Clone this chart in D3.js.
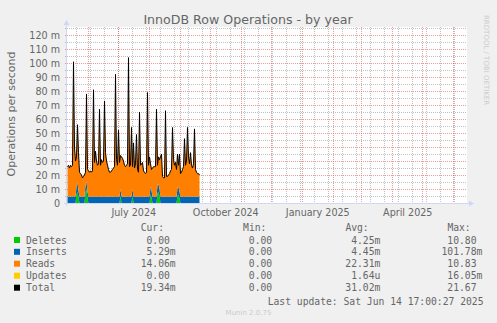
<!DOCTYPE html>
<html>
<head>
<meta charset="utf-8">
<script src="https://cdn.jsdelivr.net/npm/d3@7/dist/d3.min.js"></script>
<style>
  body { margin: 0; background: #f0f0f0; }
  svg { display: block; }
  text { white-space: pre; }
</style>
</head>
<body>
<svg id="chart" width="497" height="323"></svg>
<script>
// Time window of the yearly view and first day with samples
const windowStart = "2024-05-10T17:00:27";
const windowEnd = "2025-06-14T17:00:27";
const firstDay = "2024-05-10T17:00:27";
const firstGridMonday = "2024-05-06T00:00:00";

// Daily averages, in milli-operations per second
const deletes = [
  0,0,0,0,0,0,0,0,0,6.0, 8.0,4.0,0,0,0,0,0,0,8.0,10.0,
  3.0,0,0,0,0,0,0,0,0,0, 0,0,0,0,0,0,0,0,0,0,
  0,0,0,0,0,0,0,0,0,0, 0,0,0,5.0,0,0,0,0,0,0,
  0,0,0,0,0,5.0,0,0,0,0, 0,0,0,0,0,0,0,0,0,0,
  0,0,0,6.0,4.0,0,0,0,0,0, 7.0,8.0,5.0,0,0,0,0,0,0,0,
  0,0,0,0,0,0,0,0,0,0, 5.0,6.0,3.0,0,0,0,0,0,0,0,
  0,0,0,0,0,0,0,0,0,0, 0,0,0
];
const inserts = [
  4.6,4.6,4.5,4.6,4.6,4.5,4.8,4.6,4.5,5.2, 6.5,5.0,4.5,4.4,4.5,4.4,4.5,4.4,4.6,5.5,
  4.8,4.5,4.5,4.6,4.5,4.5,4.7,4.5,4.6,4.5, 4.5,4.6,4.6,4.4,4.5,4.5,4.6,4.7,4.5,4.4,
  4.5,4.4,4.5,4.5,4.6,4.5,4.5,4.5,4.8,4.5, 4.5,4.6,4.5,5.0,4.6,4.5,4.5,4.4,4.5,4.5,
  4.5,4.8,4.5,4.5,4.6,4.8,4.5,4.4,4.5,4.6, 4.5,4.5,4.6,4.5,4.5,4.6,4.4,4.5,4.5,4.5,
  4.7,4.5,4.6,5.5,5.0,4.5,4.6,4.5,4.5,4.6, 6.0,5.5,5.0,4.6,4.5,4.4,4.5,4.5,4.5,4.6,
  4.5,4.4,4.5,4.5,4.6,4.6,4.5,4.5,4.6,4.5, 5.5,5.5,5.0,4.5,4.5,4.5,4.6,4.6,4.5,4.6,
  4.7,4.5,4.6,4.5,4.5,4.5,4.6,4.7,4.5,4.5, 4.5,4.6,4.6
];
const reads = [
  21.4,22.4,20.5,22.4,21.4,22.5,96.2,35.4,25.5,21.8, 41.5,27.0,17.5,16.6,15.5,13.6,14.5,15.6,9.4,62.5,
  16.2,18.5,17.5,18.4,17.5,18.5,76.3,24.5,32.4,25.5, 22.5,23.4,62.4,22.6,26.5,24.5,25.4,68.3,31.5,25.6,
  22.5,19.6,17.5,17.5,18.4,19.5,20.5,21.5,87.2,26.5, 22.5,47.4,24.5,24.0,28.4,27.5,25.5,22.6,21.5,22.5,
  23.5,99.2,21.5,22.5,49.4,16.2,38.5,20.6,23.5,44.4, 19.5,17.5,60.4,22.5,23.5,24.4,18.6,17.5,16.5,17.5,
  74.3,22.5,28.4,16.5,15.0,20.5,21.4,21.5,21.5,62.4, 14.0,19.5,21.0,28.4,30.5,14.6,13.5,13.5,61.5,14.4,
  14.5,15.6,16.5,18.5,19.4,49.4,26.5,22.5,24.4,19.5, 24.5,15.5,27.0,16.5,17.5,19.5,21.4,41.4,22.5,25.4,
  49.3,28.5,23.4,31.5,22.5,20.5,23.4,48.3,19.5,17.5, 16.5,16.4,15.4
];
const updates = [
  0,0,0,0,0,0,0,0,0,0, 0,0,0,0,0,0,0,0,0,0,
  0,0,0,0,0,0,0,0,0,0, 0,0,0,0,0,0,0,0,0,0,
  0,0,0,0,0,0,0,0,0,0, 0,0,0,0,0,0,0,0,0,0,
  0,0,0,0,0,0,0,0,0,0, 0,0,0,0,0,0,0,0,0,0,
  0,0,0,0,0,0,0,0,0,0, 0,0,0,0,0,0,0,0,0,0,
  0,0,0,0,0,0,0,0,0,0, 0,0,0,0,0,0,0,0,0,0,
  0,0,0,0,0,0,0,0,0,0, 0,0,0
];

const yTicks = [0,10,20,30,40,50,60,70,80,90,100,110,120];
const yMinorTicks = [5,15,25,35,45,55,65,75,85,95,105,115,125];
const monthLabels = [
  ["2024-07-01", "July 2024"],
  ["2024-10-01", "October 2024"],
  ["2025-01-01", "January 2025"],
  ["2025-04-01", "April 2025"]
];

const seriesNames = ["Deletes", "Inserts", "Reads", "Updates"];
const seriesColors = ["#00cc00", "#0066b3", "#ff8000", "#ffcc00"];
const legendNames = ["Deletes", "Inserts", "Reads", "Updates", "Total"];
const legendColors = ["#00cc00", "#0066b3", "#ff8000", "#ffcc00", "#000000"];
const legendCur = ["0.00", "5.29m", "14.06m", "0.00", "19.34m"];
const legendMin = ["0.00", "0.00", "0.00", "0.00", "0.00"];
const legendAvg = ["4.25m", "4.45m", "22.31m", "1.64u", "31.02m"];
const legendMax = ["10.80", "101.78m", "10.83", "16.05m", "21.67"];

const svg = d3.select("#chart");
const W = 497, H = 323;
const plot = { left: 67, right: 467, top: 27, bottom: 203 };

const x = d3.scaleTime()
  .domain([new Date(windowStart), new Date(windowEnd)])
  .range([plot.left, plot.right]);
const y = d3.scaleLinear()
  .domain([0, 125.9])
  .range([plot.bottom, plot.top]);
const px = d => Math.round(x(d));

svg.append("rect").attr("width", W).attr("height", H).attr("fill", "#f0f0f0");
svg.append("rect")
  .attr("x", plot.left).attr("y", plot.top)
  .attr("width", plot.right - plot.left).attr("height", plot.bottom - plot.top)
  .attr("fill", "#ffffff");

// Grid: minor lines grey, major lines red, both dotted
const grid = svg.append("g").attr("shape-rendering", "crispEdges");
const minorStroke = "rgba(140,140,140,0.55)";
const majorStroke = "rgba(225,90,90,0.6)";

const hLine = (v, stroke) => grid.append("line")
  .attr("x1", plot.left - 2).attr("x2", plot.right)
  .attr("y1", Math.round(y(v)) + 0.5).attr("y2", Math.round(y(v)) + 0.5)
  .attr("stroke", stroke).attr("stroke-dasharray", "1,1");
const vLine = (d, stroke) => grid.append("line")
  .attr("x1", px(d) + 0.5).attr("x2", px(d) + 0.5)
  .attr("y1", plot.top).attr("y2", plot.bottom + 2)
  .attr("stroke", stroke).attr("stroke-dasharray", "1,1");

yMinorTicks.filter(v => y(v) >= plot.top).forEach(v => hLine(v, minorStroke));
yTicks.slice(1).forEach(v => hLine(v, majorStroke));

// fortnightly minor lines, monthly major lines
const fortnights = d3.timeDay.range(new Date(firstGridMonday), new Date(windowEnd), 14)
  .filter(d => d >= new Date(windowStart));
const months = d3.timeMonth.range(new Date(windowStart), new Date(windowEnd));
fortnights.forEach(d => vLine(d, minorStroke));
months.forEach(d => vLine(d, majorStroke));

// Stacked areas, sloped between the centres of the daily columns
const days = deletes.map((_, i) => d3.timeHour.offset(new Date(firstDay), i * 24 + 12));
const rows = days.map((d, i) => ({
  date: d, Deletes: deletes[i], Inserts: inserts[i], Reads: reads[i], Updates: updates[i]
}));
const stacked = d3.stack().keys(seriesNames)(rows);

const areaGen = d3.area()
  .curve(d3.curveLinear)
  .x(s => x(s.data.date))
  .y0(s => y(s[0]))
  .y1(s => y(s[1]));

const areas = svg.append("g");
stacked.forEach((layer, k) => {
  areas.append("path")
    .attr("d", areaGen(layer))
    .attr("fill", seriesColors[k]);
});

// Total line on top of the stack
const topLayer = stacked[stacked.length - 1];
svg.append("path")
  .attr("d", d3.line()
    .curve(d3.curveLinear)
    .x(s => x(s.data.date))
    .y(s => y(s[1]))(topLayer))
  .attr("fill", "none")
  .attr("stroke", "#000")
  .attr("stroke-width", 1)
  .attr("stroke-linejoin", "round");

// Axes with arrow heads
const axisColor = "#cfd6f8";
svg.append("line")
  .attr("x1", plot.left - 3).attr("x2", plot.right + 2)
  .attr("y1", plot.bottom + 0.5).attr("y2", plot.bottom + 0.5)
  .attr("stroke", axisColor);
svg.append("line")
  .attr("x1", plot.left - 0.5).attr("x2", plot.left - 0.5)
  .attr("y1", plot.bottom + 3).attr("y2", plot.top - 2)
  .attr("stroke", axisColor);
svg.append("path")
  .attr("d", `M${plot.right + 2},${plot.bottom - 2.5} L${plot.right + 7},${plot.bottom + 0.5} L${plot.right + 2},${plot.bottom + 3.5} Z`)
  .attr("fill", axisColor);
svg.append("path")
  .attr("d", `M${plot.left - 3.5},${plot.top - 2} L${plot.left - 0.5},${plot.top - 7} L${plot.left + 2.5},${plot.top - 2} Z`)
  .attr("fill", axisColor);

// Text
const font = "DejaVu Sans";
const mono = "DejaVu Sans Mono";
const textColor = "#666666";

svg.append("text")
  .attr("x", 248).attr("y", 24)
  .attr("text-anchor", "middle")
  .attr("font-family", font).attr("font-size", 12.6)
  .attr("fill", textColor)
  .text("InnoDB Row Operations - by year");

svg.append("text")
  .attr("transform", "translate(15,114) rotate(-90)")
  .attr("text-anchor", "middle")
  .attr("font-family", font).attr("font-size", 11)
  .attr("fill", textColor)
  .text("Operations per second");

svg.append("text")
  .attr("transform", "translate(484,15) rotate(90)")
  .attr("font-family", font).attr("font-size", 7)
  .attr("fill", "#cccccc")
  .text("RRDTOOL / TOBI OETIKER");

yTicks.forEach(v => {
  svg.append("text")
    .attr("x", 60).attr("y", y(v) + 3.5)
    .attr("text-anchor", "end")
    .attr("font-family", font).attr("font-size", 9.6)
    .attr("fill", textColor)
    .text(v === 0 ? "0" : v + " m");
});

monthLabels.forEach(([d, label]) => {
  const mid = d3.timeHour.offset(new Date(d + "T00:00:00"), 15 * 24 + 12);
  svg.append("text")
    .attr("x", x(mid)).attr("y", 216)
    .attr("text-anchor", "middle")
    .attr("font-family", font).attr("font-size", 9.6)
    .attr("fill", textColor)
    .text(label);
});

// Legend table
const cw = 5.88;
const colStart = [134.8, 237.2, 339.5, 441.5];
const headers = ["Cur:", "Min:", "Avg:", "Max:"];
const fieldOf = s => (/[a-z]$/i.test(s) ? s : s + " ").padStart(7, " ");
const legendText = (tx, ty, str) => svg.append("text")
  .attr("x", tx).attr("y", ty)
  .attr("font-family", mono).attr("font-size", 9.7)
  .attr("fill", textColor)
  .text(str);

headers.forEach((h, j) => legendText(colStart[j] + cw, 231, h));
const rowY = [240, 251.8, 263.7, 275.7, 287.7];
legendNames.forEach((name, i) => {
  const cy = rowY[i];
  svg.append("rect")
    .attr("x", 14).attr("y", cy - 3).attr("width", 6).attr("height", 6)
    .attr("fill", legendColors[i]);
  legendText(26, cy + 3.5, name);
  [legendCur, legendMin, legendAvg, legendMax].forEach((col, j) => {
    legendText(colStart[j], cy + 3.5, fieldOf(col[i]));
  });
});

svg.append("text")
  .attr("x", 483.5).attr("y", 305)
  .attr("text-anchor", "end")
  .attr("font-family", mono).attr("font-size", 9.7)
  .attr("fill", textColor)
  .text("Last update: Sat Jun 14 17:00:27 2025");

svg.append("text")
  .attr("x", 248.5).attr("y", 315)
  .attr("text-anchor", "middle")
  .attr("font-family", font).attr("font-size", 7)
  .attr("fill", "#cccccc")
  .text("Munin 2.0.75");
</script>
</body>
</html>
